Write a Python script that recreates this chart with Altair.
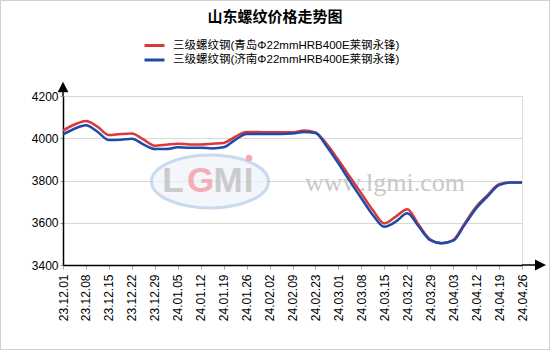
import altair as alt
import pandas as pd

# ---------------- data ----------------
title_text = '山东螺纹价格走势图'
dates = ['23.12.01', '23.12.08', '23.12.15', '23.12.22', '23.12.29', '24.01.05',
         '24.01.12', '24.01.19', '24.01.26', '24.02.02', '24.02.09', '24.02.23',
         '24.03.01', '24.03.08', '24.03.15', '24.03.22', '24.03.29', '24.04.03',
         '24.04.12', '24.04.19', '24.04.26']

# sample positions along the category axis (in label steps)
pos = [0, 0.5, 1, 1.5, 2, 2.5, 3, 3.5, 4, 4.5, 5, 5.5, 6, 6.5, 7, 7.5, 8, 8.5, 9, 9.5,
       10, 10.5, 11, 11.5, 12, 12.5, 13, 13.5, 14, 14.5, 15, 15.5, 16, 16.5, 17, 17.5,
       18, 18.5, 19, 19.5, 20]

qingdao = [4036, 4065, 4082, 4055, 4015, 4020, 4023, 3995, 3965, 3969, 3974, 3971,
           3970, 3974, 3978, 4007, 4030, 4030, 4028, 4028, 4028, 4037, 4028, 3971,
           3897, 3818, 3739, 3660, 3597, 3629, 3664, 3590, 3521, 3503, 3518, 3597,
           3676, 3731, 3783, 3791, 3790]

jinan = [4018, 4045, 4061, 4031, 3992, 3993, 3998, 3971, 3949, 3949, 3957, 3955,
         3955, 3952, 3957, 3992, 4020, 4020, 4020, 4020, 4022, 4030, 4025, 3960,
         3881, 3797, 3716, 3637, 3581, 3605, 3645, 3582, 3518, 3503, 3515, 3590,
         3668, 3725, 3778, 3790, 3790]

series_names = ['三级螺纹钢(青岛Φ22mmHRB400E莱钢永锋)', '三级螺纹钢(济南Φ22mmHRB400E莱钢永锋)']
series_colors = ['#d83a3c', '#1e4aaa']
y_ticks = [3400, 3600, 3800, 4000, 4200]

df = pd.DataFrame({
    'pos': pos + pos,
    'price': qingdao + jinan,
    'series': [series_names[0]] * len(pos) + [series_names[1]] * len(pos),
})
one = pd.DataFrame({'k': [0]})

FONT = 'Liberation Sans, Noto Sans CJK SC, sans-serif'
W, H = 459, 169
label_js = '[' + ','.join("'%s'" % d for d in dates) + ']'

lines = alt.Chart(df).mark_line(interpolate='monotone', strokeWidth=2.5).encode(
    x=alt.X('pos:Q', scale=alt.Scale(domain=[0, 20], nice=False, zero=False),
            axis=alt.Axis(values=list(range(len(dates))), labelExpr=label_js + '[datum.value]',
                          labelAngle=270, labelFontSize=12, labelColor='#000', labelFont=FONT,
                          domainColor='#000', domainWidth=1.5, tickColor='#aaa', tickSize=4,
                          labelPadding=5, grid=False, title=None, labelOverlap=False)),
    y=alt.Y('price:Q', scale=alt.Scale(domain=[3400, 4200], nice=False, zero=False),
            axis=alt.Axis(values=y_ticks, format='d', labelFontSize=12, labelColor='#000',
                          labelFont=FONT, domainColor='#000', domainWidth=1.5, tickColor='#999',
                          tickSize=3, labelPadding=2, grid=True, gridColor='#d8d8d8',
                          gridWidth=1, title=None)),
    color=alt.Color('series:N', sort=series_names,
                    scale=alt.Scale(domain=series_names, range=series_colors),
                    legend=alt.Legend(orient='none', legendX=85, legendY=-57, title=None,
                                      symbolType='M-2,0L2,0', symbolSize=100,
                                      symbolStrokeWidth=3,
                                      labelFontSize=11.5, labelFont=FONT, labelColor='#000',
                                      labelLimit=0, labelOffset=12, rowPadding=1.5, padding=0)),
)

# chart title drawn as a text mark above the legend
title = alt.Chart(one).mark_text(text=title_text, font=FONT, fontSize=15, fontWeight='bold',
                                 color='#000', align='center', baseline='middle').encode(
    x=alt.value(212), y=alt.value(-79))

# watermark (logo ellipse + letters + url)
ellipse = alt.Chart(one).mark_point(
    shape='M-1,0A1,0.453,0,1,1,1,0A1,0.453,0,1,1,-1,0Z', filled=True,
    fill='#eef3fa', stroke='#b3cbe9', strokeWidth=3, opacity=0.7
).encode(x=alt.value(147), y=alt.value(85.5), size=alt.value(117 * 117))

def letter(ch, xv, color):
    return alt.Chart(one).mark_text(text=ch, font='Liberation Sans', fontSize=35,
                                    fontWeight='bold', color=color, opacity=0.85,
                                    baseline='alphabetic', align='center'
                                    ).encode(x=alt.value(xv), y=alt.value(96))

logo = (letter('L', 110, '#c4c4c4') + letter('G', 137.5, '#f4a3ab') +
        letter('M', 165, '#c4c4c4') + letter('I', 185.5, '#c4c4c4'))
dot = alt.Chart(one).mark_point(filled=True, color='#f4a0a8', opacity=0.9).encode(
    x=alt.value(186), y=alt.value(62), size=alt.value(45))
url = alt.Chart(one).mark_text(text='www.lgmi.com', font='Liberation Serif', fontSize=26,
                               color='#c8c8c8', baseline='alphabetic', align='center').encode(
    x=alt.value(322), y=alt.value(95))

# axis arrows
yext = alt.Chart(one).mark_rule(color='#000', strokeWidth=1.5).encode(
    x=alt.value(0), y=alt.value(-9), y2=alt.value(0))
xext = alt.Chart(one).mark_rule(color='#000', strokeWidth=1.5).encode(
    x=alt.value(W), x2=alt.value(474), y=alt.value(H))
yarrow = alt.Chart(one).mark_point(shape='M-1,1L0,-1L1,1Z', filled=True, color='#000',
                                   opacity=1).encode(
    x=alt.value(0), y=alt.value(-9), size=alt.value(115))
xarrow = alt.Chart(one).mark_point(shape='M-1,-1L1,0L-1,1Z', filled=True, color='#000',
                                   opacity=1).encode(
    x=alt.value(477.5), y=alt.value(H), size=alt.value(121))

border = alt.Chart(one).mark_rect(fill='transparent', stroke='#d0d0d0', strokeWidth=1).encode(
    x=alt.value(-62.5), x2=alt.value(486.5), y=alt.value(-95.5), y2=alt.value(253.5))

chart = alt.layer(
    ellipse, logo, dot, url, lines, yext, xext, yarrow, xarrow, border, title
).properties(
    width=W, height=H,
    autosize=alt.AutoSizeParams(type='none'),
    padding={'left': 63, 'top': 96, 'right': 28, 'bottom': 85},
).configure_view(stroke=None).configure(background='white')

chart.save('out.html', embed_options={'renderer': 'svg', 'actions': False})
